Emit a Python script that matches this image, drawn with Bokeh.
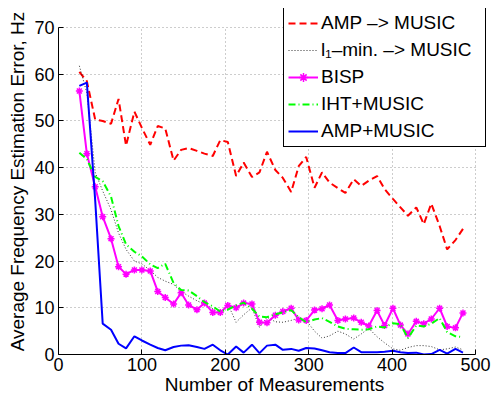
from bokeh.plotting import figure
from bokeh.models import Range1d, Legend, LegendItem, FixedTicker
from bokeh.embed import file_html
from bokeh.resources import INLINE

x = [25, 34, 44, 53, 63, 72, 81, 91, 100, 110,
     119, 128, 138, 147, 156, 166, 175, 185, 194, 203,
     213, 222, 232, 241, 250, 260, 269, 279, 288, 297,
     307, 316, 325, 335, 344, 354, 363, 372, 382, 391,
     401, 410, 419, 429, 438, 447, 457, 466, 476, 485]

amp_to_music = [60.5, 58.5, 50.3, 50.0, 49.4, 54.7, 44.7, 52.0, 48.5, 44.9,
                48.9, 48.4, 41.5, 43.8, 44.2, 43.6, 43.0, 42.5, 45.9, 45.5,
                38.2, 41.1, 38.0, 39.0, 43.4, 39.5, 37.8, 34.8, 40.3, 42.3,
                35.7, 39.0, 36.8, 35.6, 34.6, 37.5, 36.1, 37.2, 38.2, 35.4,
                33.3, 31.5, 29.7, 31.5, 27.9, 32.3, 27.5, 22.5, 24.5, 26.9]

l1_to_music = [61.8, 56.0, 39.0, 35.0, 31.0, 26.0, 22.5, 20.0, 19.4, 18.0,
               16.5, 15.7, 15.0, 13.5, 12.5, 11.5, 10.8, 9.8, 8.7, 10.8,
               6.9, 8.5, 10.0, 5.8, 8.0, 7.0, 6.9, 7.3, 7.8, 7.3,
               5.0, 3.5, 4.0, 5.0, 4.4, 3.3, 4.4, 5.6, 3.8, 2.5,
               1.2, 0.9, 1.5, 1.9, 1.9, 1.7, 1.0, 1.2, 1.6, 1.0]

bisp = [56.4, 43.0, 35.9, 29.5, 24.8, 18.8, 17.2, 18.1, 18.1, 17.9,
        13.5, 12.2, 10.8, 13.2, 10.6, 9.6, 11.0, 9.0, 9.0, 10.5,
        10.0, 11.0, 10.8, 6.9, 6.8, 8.4, 9.2, 9.9, 7.4, 7.3,
        9.5, 9.8, 10.6, 7.3, 7.6, 7.8, 6.9, 6.1, 9.4, 6.2,
        9.9, 6.3, 4.4, 7.1, 6.6, 7.6, 9.9, 6.0, 5.7, 8.9]

iht_music = [43.2, 41.8, 38.0, 37.1, 33.8, 27.5, 23.6, 22.0, 21.0, 19.3,
             18.5, 19.4, 15.3, 13.8, 13.7, 12.5, 11.2, 10.3, 9.2, 9.6,
             10.5, 11.1, 9.8, 8.1, 8.0, 8.6, 9.0, 9.5, 8.0, 6.9,
             7.5, 7.8, 7.0, 6.0, 5.5, 5.4, 5.3, 5.4, 6.0, 5.8,
             6.7, 6.5, 3.5, 6.2, 6.0, 6.6, 7.8, 4.8, 3.9, 3.7]

amp_music = [57.5, 58.2, 33.0, 6.6, 5.3, 2.3, 1.3, 3.9, 3.0, 2.1,
             1.4, 0.9, 1.6, 1.9, 2.0, 1.6, 1.2, 2.1, 0.9, 0.0,
             1.7, 0.4, 2.1, 0.3, 1.9, 2.1, 1.0, 1.2, 0.8, 1.4,
             1.3, 0.9, 0.5, 0.3, 0.3, 1.5, 0.5, 0.5, 0.5, 0.6,
             0.8, 0.5, 0.3, 0.4, 0.0, 0.1, 1.0, 0.2, 1.2, 0.4]

x_ticks = [0, 100, 200, 300, 400, 500]
y_ticks = [0, 10, 20, 30, 40, 50, 60, 70]

FONT = "Liberation Sans"

# ranges extended a little beyond the axes so the legend (which sits partly
# above / right of the axes box in the original) is not clipped by the frame
p = figure(width=492, height=398, output_backend="svg", toolbar_location=None,
           x_range=Range1d(0, 518), y_range=Range1d(0, 74.07),
           min_border_left=58, min_border_right=2, min_border_top=8, min_border_bottom=44)
p.outline_line_color = None
p.background_fill_color = "white"

for ax in (p.xaxis[0], p.yaxis[0]):
    ax.axis_line_color = "black"
    ax.axis_line_width = 1
    ax.major_tick_in = 5
    ax.major_tick_out = 0
    ax.major_tick_line_color = "black"
    ax.minor_tick_line_color = None
    ax.major_label_text_font = FONT
    ax.major_label_text_font_size = "18px"
    ax.major_label_text_color = "black"
    ax.axis_label_text_font = FONT
    ax.axis_label_text_font_size = "19px"
    ax.axis_label_text_font_style = "normal"
    ax.axis_label_text_color = "black"

p.xaxis.ticker = FixedTicker(ticks=x_ticks)
p.yaxis.ticker = FixedTicker(ticks=y_ticks)
p.xaxis.bounds = (0, 500)
p.yaxis.bounds = (0, 70)
p.xaxis.axis_label = "Number of Measurements"
p.yaxis.axis_label = "Average Frequency Estimation Error, Hz"
p.xaxis.major_label_standoff = 3
p.xaxis.axis_label_standoff = 0
p.yaxis.major_label_standoff = 4
p.yaxis.axis_label_standoff = 3

for g in (p.xgrid[0], p.ygrid[0]):
    g.grid_line_color = "#9a9a9a"
    g.grid_line_dash = "1 3"
    g.grid_line_width = 1
if "cross_bounds" in p.xgrid[0].properties():
    p.xgrid[0].cross_bounds = (0, 70)
    p.ygrid[0].cross_bounds = (0, 500)

r_red = p.line(x, amp_to_music, line_color="#ff0000", line_width=2, line_dash="7 4")
r_blk = p.line(x, l1_to_music, line_color="#000000", line_width=1, line_dash="1 2", line_alpha=0.8)
r_mag = p.line(x, bisp, line_color="#ff00ff", line_width=2)
r_magm = p.scatter(x, bisp, marker="asterisk", size=7, line_color="#ff00ff", line_width=1.5)
r_grn = p.line(x, iht_music, line_color="#00ff00", line_width=2, line_dash="7 3 1 3")
r_blu = p.line(x, amp_music, line_color="#0000ff", line_width=2)

legend = Legend(items=[
    LegendItem(label="AMP –> MUSIC", renderers=[r_red]),
    LegendItem(label="l₁–min. –> MUSIC", renderers=[r_blk]),
    LegendItem(label="BISP", renderers=[r_mag, r_magm]),
    LegendItem(label="IHT+MUSIC", renderers=[r_grn]),
    LegendItem(label="AMP+MUSIC", renderers=[r_blu]),
], location=(225, 207))
legend.label_text_font = FONT
legend.label_text_font_size = "19px"
legend.label_text_color = "black"
legend.glyph_width = 30
legend.glyph_height = 22
legend.label_height = 22
legend.label_width = 160
legend.label_standoff = 3
legend.spacing = 5
legend.padding = 4
legend.margin = 0
legend.border_line_color = "black"
legend.border_line_alpha = 1.0
legend.border_line_width = 1.5
legend.background_fill_color = "white"
legend.background_fill_alpha = 1.0
p.add_layout(legend, "center")

open("out.html", "w").write(file_html(p, INLINE))
